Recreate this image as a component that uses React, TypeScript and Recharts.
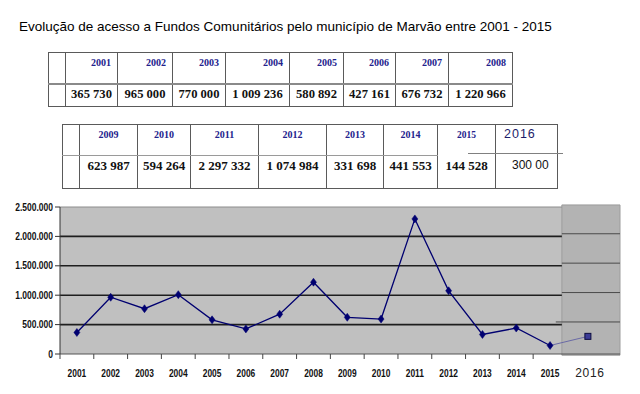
import React from 'react';
import { LineChart, Line, XAxis, YAxis, ReferenceArea, ReferenceLine } from 'recharts';

// ---------- data ----------
const TITLE = 'Evolução de acesso a Fundos Comunitários pelo município de Marvão entre 2001 - 2015';
const years = [2001, 2002, 2003, 2004, 2005, 2006, 2007, 2008, 2009, 2010, 2011, 2012, 2013, 2014, 2015];
const values = [365730, 965000, 770000, 1009236, 580892, 427161, 676732, 1220966, 623987, 594264, 2297332, 1074984, 331698, 441553, 144528];
const extraYear = 2016;
const extraValue = 300000;
const extraValueLabel = '300 00';
const yTicks = [0, 500000, 1000000, 1500000, 2000000, 2500000];
const firstRowCount = 8;

// ---------- style constants ----------
const X_MIN = 2000.5;
const X_MAX = 2017.07;
const BOX_START = 2015.35;
const EXTRA_SHIFT = 0.12;
const BOX_LINE_SHIFT = 45000;
const NAVY = '#000070';
const SERIF = "'Liberation Serif', 'Times New Roman', serif";
const SANS = "'Liberation Sans', Arial, sans-serif";

const fmtSpace = (n: number) => String(n).replace(/\B(?=(\d{3})+(?!\d))/g, ' ');
const fmtDot = (n: number) => String(n).replace(/\B(?=(\d{3})+(?!\d))/g, '.');

const extraX = extraYear + EXTRA_SHIFT;
const rows: any[] = years.map((y, i) => ({
  x: y,
  v: values[i],
  e: i === years.length - 1 ? values[i] : undefined,
}));
rows.push({ x: extraX, e: extraValue });

const xTicks = [
  ...years.map((y) => y - 0.5),
  ...years,
  extraX,
].sort((a, b) => a - b);

const XTick = (p: any) => {
  const { x, y, payload } = p;
  const v = payload.value;
  if (Math.abs((v % 1) - 0.5) < 1e-6) {
    return <line x1={x} y1={y} x2={x} y2={y + 5} stroke="#444" strokeWidth={1} />;
  }
  if (years.includes(v)) {
    return (
      <g transform={`translate(${x},${y + 23}) scale(0.8,1)`}>
        <text x={0} y={0} textAnchor="middle" fontFamily={SANS} fontWeight="bold" fontSize={10.5} fill="#111">
          {v}
        </text>
      </g>
    );
  }
  return (
    <text x={x + 2} y={y + 23} textAnchor="middle" fontFamily={SANS} fontSize={12} letterSpacing={0.6} fill="#222">
      {extraYear}
    </text>
  );
};

const YTick = (p: any) => {
  const { x, y, payload } = p;
  return (
    <g transform={`translate(${x},${y}) scale(0.85,1)`}>
      <text x={0} y={0} dy={3.6} textAnchor="end" fontFamily={SANS} fontWeight="bold" fontSize={10} fill="#111">
        {fmtDot(payload.value)}
      </text>
    </g>
  );
};

const Diamond = (p: any) => {
  const { cx, cy, index } = p;
  if (cx == null || cy == null || p.value == null) return <g key={`dm-${index}`} />;
  return (
    <path
      key={`dm-${index}`}
      d={`M${cx},${cy - 4}L${cx + 3},${cy}L${cx},${cy + 4}L${cx - 3},${cy}Z`}
      fill={NAVY}
      stroke={NAVY}
      strokeWidth={0.5}
    />
  );
};

const Square = (p: any) => {
  const { cx, cy, index, payload } = p;
  if (cx == null || cy == null || payload.x !== extraX) return <g key={`sq-${index}`} />;
  return <rect key={`sq-${index}`} x={cx - 3} y={cy - 3} width={6} height={6} fill="#3b3b96" stroke="#0c0c40" strokeWidth={1} />;
};

// ---------- tables ----------
const cellBorder = '1px solid #5a5a5a';

const Table1 = () => {
  const widths = [17, 52, 55, 53, 64, 54, 52, 53, 64];
  const ys = years.slice(0, firstRowCount);
  const vs = values.slice(0, firstRowCount);
  return (
    <table
      style={{
        position: 'absolute', left: 48, top: 52, borderCollapse: 'collapse', tableLayout: 'fixed',
        width: 464,
      }}
    >
      <colgroup>
        {widths.map((w, i) => <col key={i} style={{ width: w }} />)}
      </colgroup>
      <tbody>
        <tr style={{ height: 31 }}>
          <td style={{ border: cellBorder, borderBottom: '2px solid #8a8a8a' }} />
          {ys.map((y) => (
            <td key={y} style={{
              border: cellBorder, borderBottom: '2px solid #8a8a8a', verticalAlign: 'top', textAlign: 'right',
              padding: '4px 6px 0 0', fontFamily: SERIF, fontWeight: 'bold', fontSize: 10, color: '#22228c', lineHeight: '12px',
            }}>{y}</td>
          ))}
        </tr>
        <tr style={{ height: 23 }}>
          <td style={{ border: cellBorder }} />
          {vs.map((v, i) => (
            <td key={i} style={{
              border: cellBorder, textAlign: 'center', verticalAlign: 'middle', padding: '0 0 2px 0',
              fontFamily: SERIF, fontWeight: 'bold', fontSize: 12.6, color: '#111', lineHeight: '15px', whiteSpace: 'nowrap',
            }}>{fmtSpace(v)}</td>
          ))}
        </tr>
      </tbody>
    </table>
  );
};

const Table2 = () => {
  const widths = [17, 58, 53, 68, 68, 57, 54, 58, 62];
  const ys = years.slice(firstRowCount);
  const vs = values.slice(firstRowCount);
  const last = ys.length - 1;
  return (
    <>
      <table
        style={{
          position: 'absolute', left: 62, top: 124, borderCollapse: 'collapse', tableLayout: 'fixed', width: 495,
        }}
      >
        <colgroup>
          {widths.map((w, i) => <col key={i} style={{ width: w }} />)}
        </colgroup>
        <tbody>
          <tr style={{ height: 31 }}>
            <td style={{ border: cellBorder, borderBottom: '1px solid #9a9a9a' }} />
            {ys.map((y, i) => (
              <td key={y} style={{
                border: cellBorder, borderBottom: i === last ? 'none' : '1px solid #9a9a9a', verticalAlign: 'top', textAlign: 'center',
                padding: '4px 0 0 0', fontFamily: SERIF, fontWeight: 'bold', fontSize: i === last ? 9.5 : 10, color: '#22228c', lineHeight: '12px',
              }}>{y}</td>
            ))}
            <td style={{
              border: cellBorder, borderBottom: 'none', verticalAlign: 'top', textAlign: 'left',
              padding: '2px 0 0 8px', fontFamily: SANS, fontSize: 12.5, letterSpacing: 1, color: '#1c1c6a', lineHeight: '14px',
            }}>{extraYear}</td>
          </tr>
          <tr style={{ height: 33 }}>
            <td style={{ border: cellBorder, borderTop: 'none' }} />
            {vs.map((v, i) => (
              <td key={i} style={{
                border: cellBorder, borderTop: i === last ? 'none' : '1px solid #9a9a9a', textAlign: 'center', verticalAlign: 'top', padding: '2px 0 0 0',
                fontFamily: SERIF, fontWeight: 'bold', fontSize: 13, color: '#111', lineHeight: '15px', whiteSpace: 'nowrap',
              }}>{fmtSpace(v)}</td>
            ))}
            <td style={{
              border: cellBorder, borderTop: 'none', textAlign: 'left', verticalAlign: 'top', padding: '2px 0 0 16px',
              fontFamily: SANS, fontSize: 12, color: '#111', lineHeight: '14px', whiteSpace: 'nowrap',
            }}>{extraValueLabel}</td>
          </tr>
        </tbody>
      </table>
      <div style={{ position: 'absolute', left: 468, top: 153, width: 95, height: 1, background: '#808080' }} />
    </>
  );
};

export default function App() {
  return (
    <div style={{ position: 'absolute', left: 0, top: 0, width: 640, height: 394, background: '#fff', overflow: 'hidden' }}>
      <div style={{
        position: 'absolute', left: 19, top: 19, fontFamily: SANS, fontSize: 13.5, lineHeight: '16px', color: '#000', whiteSpace: 'nowrap',
      }}>{TITLE}</div>
      <Table1 />
      <Table2 />
      <div style={{ position: 'absolute', left: 0, top: 190 }}>
        <LineChart width={640} height={204} data={rows} margin={{ top: 17, right: 20, bottom: 10, left: 5 }}>
          <XAxis
            dataKey="x"
            type="number"
            domain={[X_MIN, X_MAX]}
            allowDataOverflow
            ticks={xTicks}
            interval={0}
            tick={<XTick />}
            tickLine={false}
            tickSize={0}
            tickMargin={0}
            height={30}
            axisLine={{ stroke: '#555', strokeWidth: 1 }}
          />
          <YAxis
            type="number"
            domain={[0, 2500000]}
            ticks={yTicks}
            interval={0}
            width={55}
            tickSize={5}
            tickMargin={2}
            tick={<YTick />}
            tickLine={{ stroke: '#333' }}
            axisLine={{ stroke: '#333' }}
          />
          <ReferenceArea x1={X_MIN} x2={BOX_START} y1={0} y2={yTicks[yTicks.length - 1]} fill="#c0c0c0" fillOpacity={1} stroke="none" ifOverflow="visible" />
          <ReferenceLine segment={[{ x: X_MIN, y: yTicks[yTicks.length - 1] }, { x: BOX_START, y: yTicks[yTicks.length - 1] }]} stroke="#8c8c8c" strokeWidth={1} ifOverflow="visible" />
          {yTicks.slice(1, -1).map((t) => (
            <ReferenceLine key={`g${t}`} segment={[{ x: X_MIN, y: t }, { x: BOX_START, y: t }]} stroke="#1e1e1e" strokeWidth={1.6} ifOverflow="visible" />
          ))}
          <ReferenceArea x1={BOX_START} x2={X_MAX} y1={-20000} y2={2535000} fill="#b3b3b3" fillOpacity={1} stroke="#9c9c9c" strokeWidth={1} ifOverflow="visible" />
          {yTicks.slice(1, -1).map((t, i) => (
            <ReferenceLine key={`b${t}`} segment={[{ x: i === 0 ? BOX_START - 0.18 : BOX_START, y: t + BOX_LINE_SHIFT }, { x: X_MAX, y: t + BOX_LINE_SHIFT }]} stroke="#4a4a4a" strokeWidth={1} ifOverflow="visible" />
          ))}
          <Line dataKey="e" stroke="#6a6aa6" strokeWidth={1} dot={<Square />} activeDot={false} isAnimationActive={false} connectNulls />
          <Line dataKey="v" stroke={NAVY} strokeWidth={1.3} dot={<Diamond />} activeDot={false} isAnimationActive={false} />
        </LineChart>
      </div>
    </div>
  );
}
